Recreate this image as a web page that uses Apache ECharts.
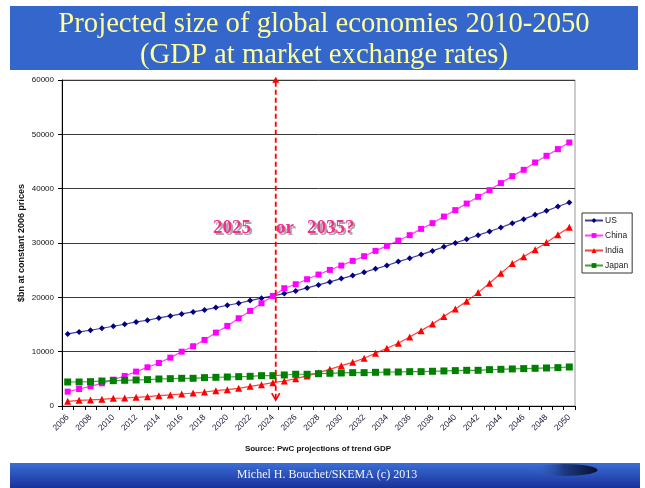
<!DOCTYPE html>
<html>
<head>
<meta charset="utf-8">
<script src="https://cdn.jsdelivr.net/npm/echarts@6/dist/echarts.min.js"></script>
<style>
  html, body { margin: 0; padding: 0; background: #fff; }
  #chart { width: 645px; height: 488px; }
</style>
</head>
<body>
<div id="chart"></div>
<script>
// Years on the category axis
const years = ['2006','2007','2008','2009','2010','2011','2012','2013','2014','2015',
  '2016','2017','2018','2019','2020','2021','2022','2023','2024','2025',
  '2026','2027','2028','2029','2030','2031','2032','2033','2034','2035',
  '2036','2037','2038','2039','2040','2041','2042','2043','2044','2045',
  '2046','2047','2048','2049','2050'];

// GDP, $bn at constant 2006 prices
const us = [13260,13630,13940,14310,14680,15050,15470,15780,16210,16580,
  16950,17310,17680,18110,18540,18910,19400,19840,20260,20690,
  21180,21740,22290,22840,23450,24000,24620,25240,25850,26580,
  27200,27870,28550,29290,30020,30700,31440,32110,32850,33650,
  34390,35180,35920,36710,37450];
const china = [2640,3130,3620,4170,4850,5530,6330,7120,7920,8900,
  10000,11000,12160,13510,14740,16150,17500,18910,20260,21680,
  22410,23330,24190,25050,25850,26710,27570,28550,29470,30450,
  31440,32600,33650,34870,36050,37260,38500,39730,41020,42310,
  43470,44820,46050,47280,48500];
const india = [860,1050,1110,1230,1410,1470,1600,1720,1900,2030,
  2210,2390,2580,2820,3000,3250,3620,3930,4290,4600,
  5030,5530,6140,6750,7420,8040,8780,9700,10630,11550,
  12710,13870,15100,16450,17870,19280,20870,22600,24440,26210,
  27450,28740,30080,31500,32920];
const japan = [4420,4420,4480,4600,4660,4730,4790,4850,4970,5030,
  5100,5100,5220,5280,5340,5400,5470,5580,5580,5710,
  5840,5840,5950,6020,6080,6140,6140,6200,6260,6260,
  6320,6320,6390,6450,6510,6570,6570,6690,6750,6820,
  6880,6940,7000,7060,7180];

const seriesNames = ['US', 'China', 'India', 'Japan'];
const yTicks = { min: 0, max: 60000, interval: 10000 };

// Crossover marker: year where China overtakes the US
const crossYear = '2024';

const sans = '"Liberation Sans", Arial, sans-serif';
const serif = '"Liberation Serif", "Times New Roman", serif';

const chart = echarts.init(document.getElementById('chart'), null, { renderer: 'canvas' });

function lineSeries(name, data, color, symbol, size) {
  return {
    name: name,
    type: 'line',
    data: data,
    symbol: symbol,
    symbolSize: size,
    showSymbol: true,
    color: color,
    itemStyle: { color: color },
    lineStyle: { color: color, width: 1.2, opacity: 0.75 },
    emphasis: { disabled: true },
    animation: false,
    z: 3
  };
}

chart.setOption({
  animation: false,
  backgroundColor: '#ffffff',
  grid: {
    left: 62, right: 70, top: 80, bottom: 82,
    show: true, borderColor: '#9a9a9a', borderWidth: 1,
    containLabel: false, outerBoundsMode: 'none'
  },
  legend: {
    orient: 'vertical',
    left: 582, top: 213,
    data: seriesNames,
    itemWidth: 18, itemHeight: 6, itemGap: 6,
    padding: [3, 4, 3, 2],
    borderColor: '#333', borderWidth: 1,
    backgroundColor: '#fff',
    textStyle: { fontFamily: sans, fontSize: 8.5, color: '#222', padding: [0, 0, 0, -3] },
    selectedMode: false
  },
  xAxis: {
    type: 'category',
    data: years,
    boundaryGap: true,
    axisLine: { lineStyle: { color: '#000', width: 1 } },
    axisTick: { show: true, interval: 0, length: 4, lineStyle: { color: '#000' } },
    axisLabel: {
      interval: 1, rotate: 45, margin: 10,
      fontFamily: sans, fontSize: 8.5, color: '#1b1b3a'
    },
    splitLine: { show: false }
  },
  yAxis: {
    type: 'value',
    min: yTicks.min, max: yTicks.max, interval: yTicks.interval,
    name: '$bn at constant 2006 prices',
    nameLocation: 'middle', nameGap: 36, nameRotate: 90, nameMoveOverlap: false,
    nameTextStyle: { fontFamily: sans, fontSize: 9, fontWeight: 'bold', color: '#111' },
    axisLine: { show: true, lineStyle: { color: '#000', width: 1 } },
    axisTick: { show: true, length: 4, lineStyle: { color: '#000' } },
    axisLabel: { fontFamily: sans, fontSize: 8, color: '#111', margin: 8,
      formatter: function (v) { return String(v); } },
    splitLine: { lineStyle: { color: '#3a3a3a', width: 1 } }
  },
  series: [
    lineSeries('US', us, '#000080', 'diamond', 6),
    lineSeries('China', china, '#FF00FF', 'rect', 6),
    lineSeries('India', india, '#FF0000', 'triangle', 7),
    lineSeries('Japan', japan, '#008000', 'rect', 7)
  ]
});

// Dashed crossover arrow placed from the axes' own scales
const xA = chart.convertToPixel({ xAxisIndex: 0 }, crossYear);
const band = chart.convertToPixel({ xAxisIndex: 0 }, years[years.indexOf(crossYear) + 1]) - xA;
const ax = xA + band * 0.25;
const yTop = chart.convertToPixel({ yAxisIndex: 0 }, 60600);
const yBot = chart.convertToPixel({ yAxisIndex: 0 }, 1100);

const pink = '#F0308E';

chart.setOption({
  graphic: [
    // title banner
    { type: 'rect', left: 10, top: 6, shape: { width: 628, height: 64 },
      style: { fill: '#3466CB' }, silent: true, z: 10 },
    { type: 'text', x: 324, y: 24, silent: true, z: 11,
      style: { text: 'Projected size of global economies 2010-2050', fill: '#FFFF99',
        font: '28.7px ' + serif, textAlign: 'center', textVerticalAlign: 'middle' } },
    { type: 'text', x: 324, y: 55, silent: true, z: 11,
      style: { text: '(GDP at market exchange rates)', fill: '#FFFF99',
        font: '28.7px ' + serif, textAlign: 'center', textVerticalAlign: 'middle' } },

    // footer band
    { type: 'rect', left: 10, top: 463, shape: { width: 630, height: 25 }, silent: true, z: 10,
      style: { fill: new echarts.graphic.LinearGradient(0, 0, 0, 1, [
        { offset: 0, color: '#3a6ed6' }, { offset: 1, color: '#18329a' }]) } },
    { type: 'circle', x: 564, y: 470, scaleX: 5.6, scaleY: 1, shape: { cx: 0, cy: 0, r: 6 },
      silent: true, z: 11,
      style: { fill: new echarts.graphic.LinearGradient(0, 0, 1, 0, [
        { offset: 0, color: 'rgba(58,110,214,0)' }, { offset: 0.5, color: '#1d3a82' },
        { offset: 1, color: '#08122e' }]) } },
    { type: 'text', x: 327, y: 475, silent: true, z: 12,
      style: { text: 'Michel H. Bouchet/SKEMA (c) 2013', fill: '#f2f2f2',
        font: '12px ' + serif, textAlign: 'center', textVerticalAlign: 'middle' } },

    // source note
    { type: 'text', x: 318, y: 449, silent: true, z: 11,
      style: { text: 'Source: PwC projections of trend GDP', fill: '#111',
        font: 'bold 8px ' + sans, textAlign: 'center', textVerticalAlign: 'middle' } },

    // annotation text with shadow
    { type: 'text', x: 215, y: 230, silent: true, z: 11,
      style: { text: '2025', fill: '#a8a8a8', font: 'bold 19px ' + serif, textVerticalAlign: 'middle' } },
    { type: 'text', x: 213, y: 228, silent: true, z: 12,
      style: { text: '2025', fill: pink, font: 'bold 19px ' + serif, textVerticalAlign: 'middle' } },
    { type: 'text', x: 278, y: 230, silent: true, z: 11,
      style: { text: 'or', fill: '#a8a8a8', font: 'bold 19px ' + serif, textVerticalAlign: 'middle' } },
    { type: 'text', x: 276, y: 228, silent: true, z: 12,
      style: { text: 'or', fill: pink, font: 'bold 19px ' + serif, textVerticalAlign: 'middle' } },
    { type: 'text', x: 309, y: 230, silent: true, z: 11,
      style: { text: '2035?', fill: '#a8a8a8', font: 'bold 19px ' + serif, textVerticalAlign: 'middle' } },
    { type: 'text', x: 307, y: 228, silent: true, z: 12,
      style: { text: '2035?', fill: pink, font: 'bold 19px ' + serif, textVerticalAlign: 'middle' } },

    // dashed double arrow
    { type: 'line', silent: true, z: 13,
      shape: { x1: ax, y1: yTop + 5, x2: ax, y2: yBot - 1 },
      style: { stroke: '#FF0000', lineWidth: 1.8, lineDash: [5, 3] } },
    { type: 'polygon', silent: true, z: 13,
      shape: { points: [[ax, yTop], [ax - 3.5, yTop + 6], [ax + 3.5, yTop + 6]] },
      style: { fill: '#FF0000' } },
    { type: 'polyline', silent: true, z: 13,
      shape: { points: [[ax - 4, yBot - 7], [ax, yBot], [ax + 4, yBot - 7]] },
      style: { stroke: '#FF0000', lineWidth: 1.6, fill: null } }
  ]
});
</script>
</body>
</html>
